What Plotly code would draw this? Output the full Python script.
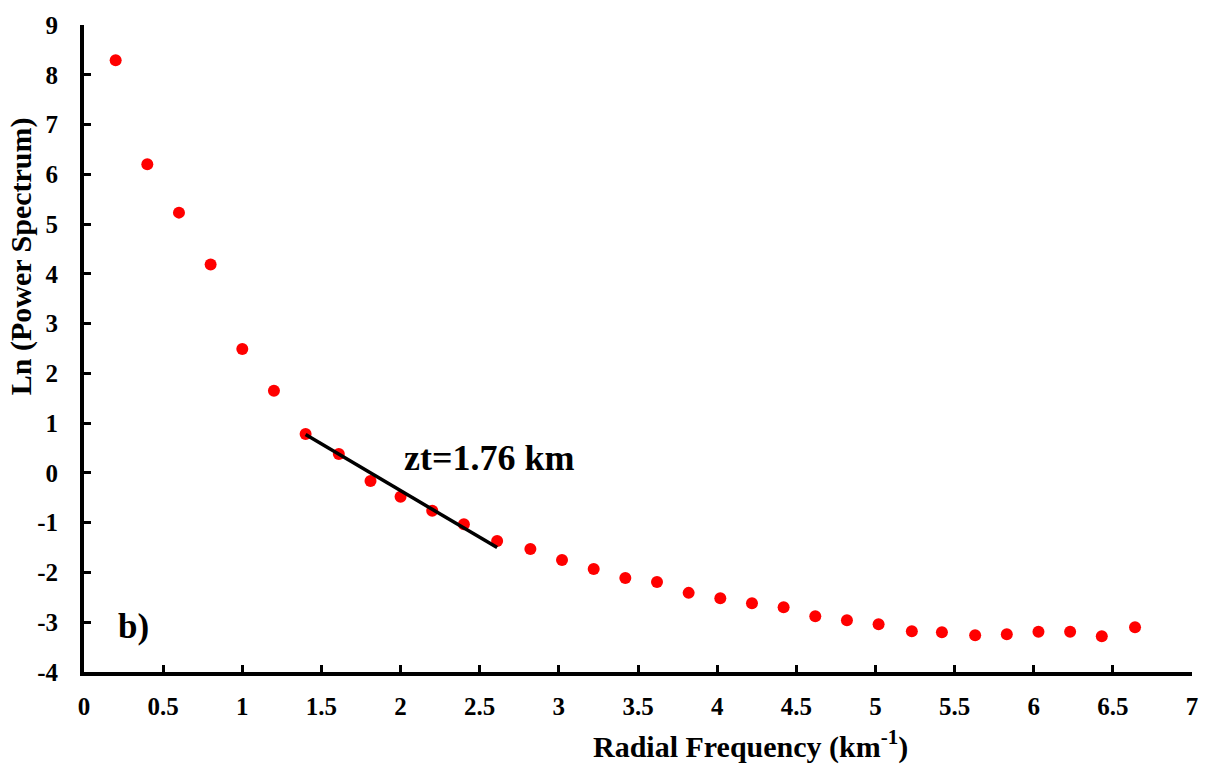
import plotly.graph_objects as go

freq = [0.20, 0.40, 0.60, 0.80, 1.00, 1.20, 1.40, 1.61, 1.81, 2.00, 2.20, 2.40, 2.61,
        2.82, 3.02, 3.22, 3.42, 3.62, 3.82, 4.02, 4.22, 4.42, 4.62, 4.82, 5.02, 5.23,
        5.42, 5.63, 5.83, 6.03, 6.23, 6.43, 6.64]
lnp = [8.29, 6.20, 5.23, 4.19, 2.49, 1.65, 0.78, 0.38, -0.16, -0.48, -0.76, -1.03, -1.37,
       -1.53, -1.75, -1.93, -2.11, -2.19, -2.41, -2.52, -2.62, -2.70, -2.88, -2.96, -3.04,
       -3.18, -3.20, -3.26, -3.24, -3.19, -3.19, -3.28, -3.10]
fit_x = [1.40, 2.61]
fit_y = [0.77, -1.50]
x_ticks = [0, 0.5, 1, 1.5, 2, 2.5, 3, 3.5, 4, 4.5, 5, 5.5, 6, 6.5, 7]
y_ticks = [-4, -3, -2, -1, 0, 1, 2, 3, 4, 5, 6, 7, 8, 9]

FONT = "Times New Roman, Liberation Serif, DejaVu Serif, serif"

W, H = 1210, 769
L, R, T, B = 84, 17, 17, 97
pw, ph = W - L - R, H - T - B


def px_x(p):
    return (p - L) / pw


def px_y(p):
    return (H - B - p) / ph


fig = go.Figure()
fig.add_trace(go.Scatter(x=freq, y=lnp, mode="markers",
                         marker=dict(color="#ff0000", size=12, line=dict(width=0)),
                         showlegend=False, hoverinfo="skip"))
fig.add_trace(go.Scatter(x=fit_x, y=fit_y, mode="lines",
                         line=dict(color="black", width=3.5),
                         showlegend=False, hoverinfo="skip"))

fig.add_annotation(x=2.56, y=0.3, xref="x", yref="y", text="<b>zt=1.76 km</b>", showarrow=False,
                   xanchor="center", yanchor="middle",
                   font=dict(family=FONT, size=36, color="black"))
fig.add_annotation(x=0.31, y=-3.08, xref="x", yref="y", text="<b>b)</b>", showarrow=False,
                   xanchor="center", yanchor="middle",
                   font=dict(family=FONT, size=35, color="black"))
fig.add_annotation(x=px_x(751), y=px_y(745), xref="paper", yref="paper",
                   text="<b>Radial Frequency (km<sup>-1</sup>)</b>",
                   xanchor="center", yanchor="middle",
                   showarrow=False, font=dict(family=FONT, size=30, color="black"))
fig.add_annotation(x=px_x(21), y=px_y(251), xref="paper", yref="paper",
                   text="<b>Ln (Power Spectrum)</b>", textangle=-90, showarrow=False,
                   xanchor="center", yanchor="middle",
                   font=dict(family=FONT, size=30, color="black"))

axis_common = dict(showgrid=False, zeroline=False, showline=True, linecolor="black", linewidth=4,
                   ticks="inside", ticklen=7, tickwidth=3, tickcolor="black",
                   tickfont=dict(family=FONT, size=25, color="black"))

fig.update_xaxes(range=[0, 7], tickvals=x_ticks, ticktext=[f"<b>{t:g}</b>" for t in x_ticks],
                 ticklabelstandoff=9, **axis_common)
fig.update_yaxes(range=[-4, 9], tickvals=y_ticks, ticktext=[f"<b>{t}</b>" for t in y_ticks],
                 ticklabelstandoff=17, **axis_common)

fig.update_layout(width=W, height=H, margin=dict(l=L, r=R, t=T, b=B),
                  plot_bgcolor="white", paper_bgcolor="white")

fig.write_html("out.html")
